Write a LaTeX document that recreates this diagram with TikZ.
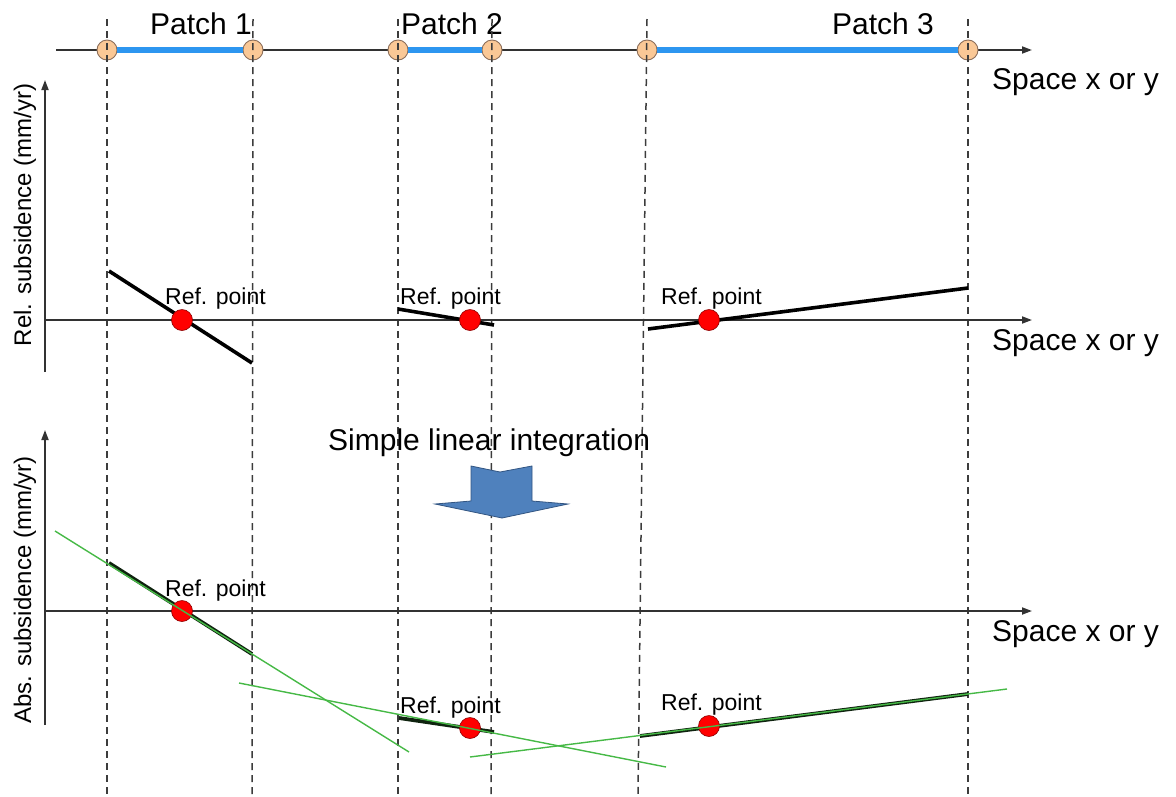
\documentclass[tikz,border=0pt]{standalone}
\usepackage{fontspec}
\setmainfont{Liberation Sans}
\usetikzlibrary{arrows.meta}
\definecolor{axisgray}{RGB}{50,50,50}
\definecolor{dashgray}{RGB}{60,60,60}
\definecolor{patchblue}{RGB}{45,150,240}
\definecolor{nodeorange}{RGB}{250,200,150}
\definecolor{nodeedge}{RGB}{140,110,90}
\definecolor{refred}{RGB}{255,0,0}
\definecolor{refedge}{RGB}{140,0,0}
\definecolor{fitgreen}{RGB}{70,185,70}
\definecolor{arrowblue}{RGB}{79,129,189}
\definecolor{arrowedge}{RGB}{50,85,130}
\definecolor{darkline}{RGB}{15,35,15}
\tikzset{
  axisline/.style={draw=axisgray, line width=1.8pt},
  axisarrow/.style={axisline, -{Triangle[length=10pt,width=7pt]}},
  patchdash/.style={draw=dashgray, line width=1.5pt, dash pattern=on 7pt off 5pt},
  patchseg/.style={draw=patchblue, line width=6pt},
  endnode/.style={circle, fill=nodeorange, draw=nodeedge, line width=0.9pt, minimum size=20pt, inner sep=0pt},
  refdot/.style={circle, fill=refred, draw=refedge, line width=0.6pt, minimum size=21pt, inner sep=0pt},
  relline/.style={draw=black, line width=3.6pt},
  absline/.style={draw=darkline, line width=3.8pt},
  fitline/.style={draw=fitgreen, line width=1.4pt},
  bigtext/.style={font=\fontsize{30}{30}\selectfont, anchor=base west, inner sep=0pt},
  reftext/.style={font=\fontsize{23}{23}\selectfont, anchor=base west, inner sep=0pt},
  ytext/.style={font=\fontsize{24}{24}\selectfont, rotate=90, inner sep=0pt},
}
\begin{document}
\begin{tikzpicture}[x=1pt,y=-1pt]
\useasboundingbox (0,0) rectangle (1176,796);

% ---------- top axis with patches ----------
\coordinate (tstart) at (56,50);
\coordinate (tend) at (1032,50);
\draw[axisarrow] (tstart) -- (tend);
\node[endnode] (p1a) at (107,50) {};
\node[endnode] (p1b) at (253,50) {};
\node[endnode] (p2a) at (398,50) {};
\node[endnode] (p2b) at (492,50) {};
\node[endnode] (p3a) at (647,50) {};
\node[endnode] (p3b) at (968,50) {};
\draw[patchseg] (p1a.east) -- (p1b.west);
\draw[patchseg] (p2a.east) -- (p2b.west);
\draw[patchseg] (p3a.east) -- (p3b.west);

\node[bigtext] (lp1) at (150,34) {Patch 1};
\node[bigtext] (lp2) at (401,34) {Patch 2};
\node[bigtext] (lp3) at (832,34) {Patch 3};
\node[bigtext] (sx1) at (992,89) {Space x or y};

% ---------- dashed patch boundaries ----------
\coordinate (d1t) at (107,19); \coordinate (d1b) at (107,796);
\coordinate (d2t) at (253,19); \coordinate (d2b) at (252,796);
\coordinate (d3t) at (398,19); \coordinate (d3b) at (398,796);
\coordinate (d4t) at (492,19); \coordinate (d4b) at (491,796);
\coordinate (d5t) at (647,19); \coordinate (d5b) at (638,796);
\coordinate (d6t) at (968,19); \coordinate (d6b) at (968,796);
\draw[patchdash] (d1t) -- (d1b);
\draw[patchdash] (d2t) -- (d2b);
\draw[patchdash] (d3t) -- (d3b);
\draw[patchdash] (d4t) -- (d4b);
\draw[patchdash] (d5t) -- (d5b);
\draw[patchdash] (d6t) -- (d6b);

% ---------- relative subsidence plot ----------
\coordinate (ry0) at (45,372);
\coordinate (ry1) at (45,80);
\coordinate (rx0) at (45,320);
\coordinate (rx1) at (1032,320);
\draw[axisarrow] (ry0) -- (ry1);
\draw[axisarrow] (rx0) -- (rx1);
\node[ytext] (ylab1) at (25,215) {Rel. subsidence (mm/yr)};
\node[bigtext] (sx2) at (992,350) {Space x or y};

\coordinate (r1a) at (109,271); \coordinate (r1b) at (252,363);
\coordinate (r2a) at (398,309); \coordinate (r2b) at (494,325);
\coordinate (r3a) at (648,329); \coordinate (r3b) at (968,288);
\draw[relline] (r1a) -- (r1b);
\draw[relline] (r2a) -- (r2b);
\draw[relline] (r3a) -- (r3b);
\node[refdot] (rd1) at (182,320) {};
\node[refdot] (rd2) at (470,320) {};
\node[refdot] (rd3) at (709,320) {};
\node[reftext] (rl1) at (165,304) {Ref. point};
\node[reftext] (rl2) at (400,304) {Ref. point};
\node[reftext] (rl3) at (661,304) {Ref. point};

% ---------- integration arrow ----------
\node[bigtext] (integ) at (328,450) {Simple linear integration};
\draw[fill=arrowblue, draw=arrowedge, line width=0.8pt, line join=miter]
  (471,466) -- (500,472) -- (532,466) -- (532,501) -- (568,504) -- (502,518)
  -- (435,504) -- (471,501) -- cycle;

% ---------- absolute subsidence plot ----------
\coordinate (ay0) at (45,725);
\coordinate (ay1) at (45,430);
\coordinate (ax0) at (45,611);
\coordinate (ax1) at (1032,611);
\draw[axisarrow] (ay0) -- (ay1);
\draw[axisarrow] (ax0) -- (ax1);
\node[ytext] (ylab2) at (25,590) {Abs. subsidence (mm/yr)};
\node[bigtext] (sx3) at (992,641) {Space x or y};

\coordinate (a1a) at (109,563); \coordinate (a1b) at (252,654);
\coordinate (a2a) at (399,718); \coordinate (a2b) at (494,732);
\coordinate (a3a) at (640,736); \coordinate (a3b) at (968,694);
\draw[absline] (a1a) -- (a1b);
\draw[absline] (a2a) -- (a2b);
\draw[absline] (a3a) -- (a3b);

\node[refdot] (ad1) at (182,611) {};
\node[refdot] (ad2) at (470,728) {};
\node[refdot] (ad3) at (709,726) {};

\coordinate (g1a) at (55,531);  \coordinate (g1b) at (409,752);
\coordinate (g2a) at (239,683); \coordinate (g2b) at (666,767);
\coordinate (g3a) at (470,757); \coordinate (g3b) at (1007,689);
\draw[fitline] (g1a) -- (g1b);
\draw[fitline] (g2a) -- (g2b);
\draw[fitline] (g3a) -- (g3b);

\node[reftext] (al1) at (165,596) {Ref. point};
\node[reftext] (al2) at (400,713) {Ref. point};
\node[reftext] (al3) at (661,710) {Ref. point};
\end{tikzpicture}
\end{document}
